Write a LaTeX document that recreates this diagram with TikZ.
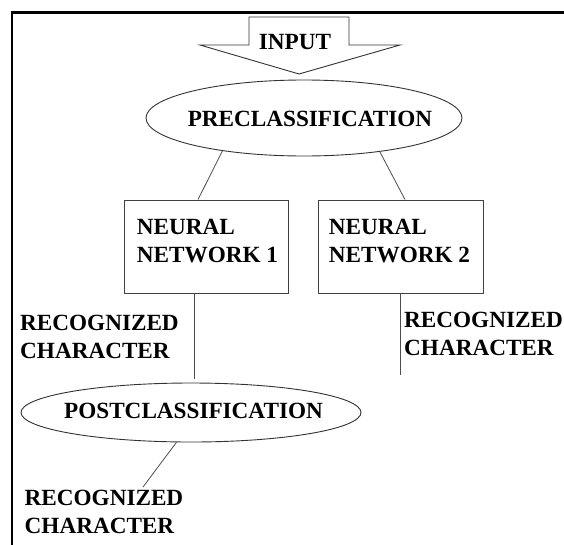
\documentclass[tikz,border=0pt]{standalone}
\usepackage{fontspec}
\setmainfont{Liberation Serif}
\usetikzlibrary{shapes.geometric,calc}
\tikzset{
  lbl/.style={font=\bfseries\fontsize{23.2}{28}\selectfont, inner sep=0pt, align=left, text=black},
  oval/.style={ellipse, draw=black!80, line width=0.9pt, inner sep=0pt},
  nnbox/.style={rectangle, draw=black!75, line width=0.9pt, inner sep=0pt},
  link/.style={draw=black!70, line width=0.8pt},
  frame/.style={draw=black, line width=2.4pt},
  inarrow/.style={draw=black!80, line width=0.9pt, fill=white, line join=miter}
}
\begin{document}
\begin{tikzpicture}[x=1pt, y=-1pt]
  \useasboundingbox[fill=white] (0,0) rectangle (564,544);

  % outer frame (open towards the right and the bottom)
  \draw[frame] (12,550) -- (12,12.5) -- (570,12.5);

  % block arrow carrying the input
  \draw[inarrow] (249,17) -- (349,17) -- (349,45) -- (400,45) -- (299,74)
                 -- (200,45) -- (249,45) -- cycle;
  \node[lbl] (input) at (295,42.5) {INPUT};

  % preclassification stage
  \node[oval, minimum width=316pt, minimum height=76pt] (pre) at (304,118) {};
  \node[lbl] (pretext) at (310,118.5) {PRECLASSIFICATION};

  % the two neural networks
  \node[nnbox, minimum width=164pt, minimum height=93pt] (nn1) at (206,246.5) {};
  \node[lbl] (nn1text) at (207.5,241) {NEURAL\\NETWORK 1};
  \node[nnbox, minimum width=165pt, minimum height=93pt] (nn2) at (400.5,246.5) {};
  \node[lbl] (nn2text) at (399.5,241) {NEURAL\\NETWORK 2};

  \draw[link] (pre.-158) -- ($(nn1.north)+(-8,0)$);
  \draw[link] (pre.-24) -- ($(nn2.north)+(4.5,0)$);

  % outputs of the networks
  \coordinate (out1) at (194.5,379);
  \coordinate (out2) at (400.7,375);
  \draw[link] (out1 |- nn1.south) -- (out1);
  \draw[link] (out2 |- nn2.south) -- (out2);
  \node[lbl, anchor=west] (rec1) at (20,336.5) {RECOGNIZED\\CHARACTER};
  \node[lbl, anchor=west] (rec2) at (404,334) {RECOGNIZED\\CHARACTER};

  % postclassification stage
  \node[oval, minimum width=340pt, minimum height=59pt] (post) at (191,412.5) {};
  \node[lbl] (posttext) at (193.5,410.5) {POSTCLASSIFICATION};

  \coordinate (out3) at (143,487);
  \draw[link] (post.-116) -- (out3);
  \node[lbl, anchor=west] (rec3) at (24.5,512) {RECOGNIZED\\CHARACTER};
\end{tikzpicture}
\end{document}
